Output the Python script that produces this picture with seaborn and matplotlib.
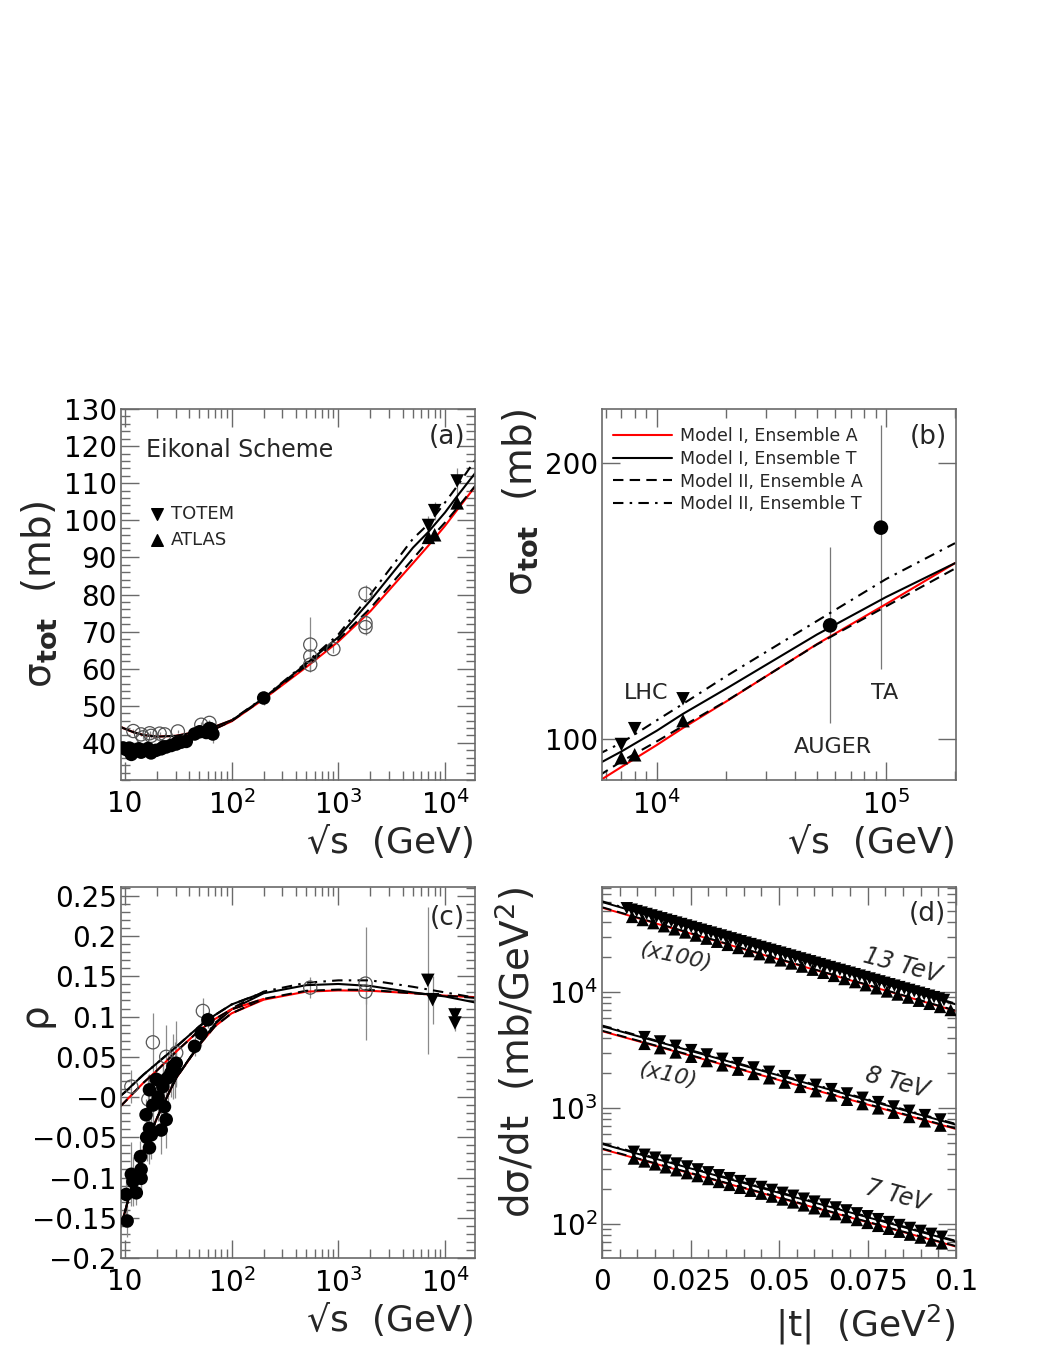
import matplotlib
matplotlib.use('Agg')
import matplotlib.pyplot as plt
import matplotlib.ticker as mt
from matplotlib.lines import Line2D
import seaborn as sns

# ---------------- data ----------------
# model curves for sigma_tot (pp), shared by panels (a) and (b)
sqrts_grid = [9, 10, 12, 15, 20, 30, 50, 70, 100, 200, 500, 1e3, 2e3, 5e3, 7e3,
              1e4, 1.3e4, 2e4, 5e4, 1e5, 2e5]
sig_I_A = [38.7, 38.5, 38.3, 38.3, 38.5, 39.5, 41.8, 43.8, 45.8, 51.8, 60.4, 67.3,
           75.5, 88.4, 93.2, 98.5, 102.8, 109.8, 126.9, 140.3, 155.5]
sig_I_T = [38.7, 38.5, 38.3, 38.3, 38.5, 39.5, 41.8, 43.9, 46.0, 52.1, 61.3, 68.5,
           78.4, 92.6, 96.9, 102.1, 106.5, 113.4, 130.0, 142.8, 155.5]
sig_II_A = [38.7, 38.5, 38.3, 38.3, 38.5, 39.5, 41.8, 43.8, 45.9, 51.9, 60.8, 67.8,
            76.3, 89.6, 94.5, 99.4, 103.3, 109.9, 126.8, 139.5, 153.4]
sig_II_T = [38.7, 38.5, 38.3, 38.3, 38.5, 39.5, 41.8, 43.9, 46.1, 52.2, 61.6, 69.2,
            80.0, 95.0, 99.0, 104.8, 109.2, 117.0, 134.5, 149.4, 163.5]
# pbar-p branch at low energy
sqrts_lo = [9, 10, 12, 15, 20, 30, 50, 70, 100]
sig_pbarp = [44.4, 43.8, 42.9, 42.1, 41.7, 41.9, 43.1, 44.4, 46.1]

# sigma_tot data (a)
pp_x = [9.6, 10.3, 11.5, 12.8, 14.2, 15.8, 17.6, 19.6, 21.9, 24.4, 27.2, 30.3, 33.7,
        37.6, 45.0, 50.2, 57.9, 64.4, 66.8, 200, 11.0, 13.5, 16.5, 23.0, 30.6, 62.0]
pp_y = [38.65, 38.2, 36.9, 38.0, 37.5, 38.0, 37.3, 38.0, 38.4, 38.9, 39.3, 39.7, 40.2,
        40.4, 42.4, 43.0, 42.8, 43.7, 42.4, 52.1, 38.6, 38.4, 38.5, 38.9, 40.0, 43.9]
pp_err = [0.4, 0.4, 0.5, 0.4, 0.4, 0.4, 0.4, 0.4, 0.4, 0.4, 0.4, 0.4, 0.4,
          0.4, 0.5, 0.5, 0.5, 0.6, 2.5, 1.8, 0.4, 0.4, 0.4, 0.4, 0.4, 0.6]
pbarp_x = [12.0, 14.2, 14.8, 17.1, 17.6, 21.2, 23.6, 31.4, 52, 62, 546, 546, 546, 900,
           1800, 1800, 1800]
pbarp_y = [43.2, 42.3, 41.5, 42.6, 41.9, 42.5, 42.3, 43.1, 44.9, 45.4, 66.5, 63.3, 61.1,
           65.3, 80.2, 72.3, 71.2]
pbarp_err = [0.5, 0.5, 0.5, 0.5, 0.5, 0.5, 0.5, 0.5, 0.8, 0.8, 7.5, 1.5, 1.5, 1.0,
             2.3, 3.0, 2.0]
lhc_x = [7000, 8000, 13000]
totem_sig = [98.6, 102.6, 110.6]
totem_sig_err = [2.5, 2.4, 3.4]
atlas_sig = [95.4, 96.1, 104.7]
atlas_sig_err = [1.4, 0.9, 1.1]
cr_x = [57000, 95000]
cr_sig = [133.0, 170.0]
cr_lo = [104.2, 119.3]
cr_hi = [162.0, 220.0]

# rho model curves (c)
rho_sqrts = [9, 10, 12, 15, 20, 30, 50, 70, 100, 200, 500, 1e3, 2e3, 5e3, 1e4, 2e4]
rho_I_A = [-0.163, -0.143, -0.104, -0.066, -0.026, 0.023, 0.065, 0.088, 0.104, 0.121,
           0.131, 0.1325, 0.132, 0.129, 0.126, 0.124]
rho_I_T = [-0.163, -0.143, -0.104, -0.066, -0.026, 0.023, 0.066, 0.091, 0.109, 0.129,
           0.139, 0.1405, 0.138, 0.130, 0.125, 0.117]
rho_II_A = [-0.163, -0.143, -0.104, -0.066, -0.026, 0.023, 0.065, 0.088, 0.104, 0.122,
            0.132, 0.1335, 0.133, 0.129, 0.126, 0.123]
rho_II_T = [-0.163, -0.143, -0.104, -0.066, -0.026, 0.023, 0.066, 0.092, 0.110, 0.131,
            0.142, 0.145, 0.145, 0.137, 0.130, 0.123]
rho_lo_sqrts = [9, 10, 12, 15, 20, 30, 50, 70, 100, 200]
rho_pbarp_T = [0.001, 0.006, 0.016, 0.028, 0.042, 0.062, 0.088, 0.102, 0.115, 0.130]
rho_pbarp_A = [-0.012, -0.006, 0.005, 0.018, 0.033, 0.056, 0.083, 0.097, 0.109, 0.122]

# rho data (c)
rho_pp_x = [10.5, 10.3, 11.9, 12.8, 14.2, 14.2, 11.5, 17.0, 14.0, 17.7, 21.9, 15.8, 17.0,
            24.4, 18.3, 23.5, 17.0, 19.7, 25.3, 22.7, 28.2, 30.3, 29.2, 45.0, 52.0, 60.0,
            16.0, 20.5, 23.0, 27.0]
rho_pp_y = [-0.154, -0.121, -0.105, -0.119, -0.101, -0.090, -0.096, -0.063, -0.074,
            -0.047, -0.041, -0.022, -0.039, -0.028, -0.010, -0.012, 0.009, 0.022, 0.024,
            0.013, 0.038, 0.042, 0.034, 0.063, 0.079, 0.096, -0.050, 0.000, 0.020, 0.030]
rho_pp_err = [0.020, 0.030, 0.030, 0.015, 0.020, 0.025, 0.040, 0.020, 0.020, 0.030, 0.030,
              0.020, 0.030, 0.035, 0.040, 0.030, 0.020, 0.020, 0.030, 0.030, 0.040, 0.030,
              0.035, 0.012, 0.015, 0.010, 0.030, 0.030, 0.020, 0.030]
rho_pbarp_x = [11.5, 16.6, 18.3, 24.4, 30.3, 53.8, 546, 1800, 1800]
rho_pbarp_y = [0.013, -0.003, 0.068, 0.050, 0.055, 0.107, 0.136, 0.141, 0.131]
rho_pbarp_err = [0.020, 0.030, 0.037, 0.040, 0.040, 0.016, 0.013, 0.070, 0.015]
rho_totem_x = [6900, 7650, 12400, 12400]
rho_totem_y = [0.145, 0.121, 0.102, 0.092]
rho_totem_err = [0.091, 0.030, 0.010, 0.010]

# dsigma/dt (d): model curves (13 TeV x100, 8 TeV x10, 7 TeV)
t_grid = [0, 0.025, 0.05, 0.075, 0.1]
ds13_I_A = [53580, 32050, 19160, 11470, 6855]
ds13_I_T = [59980, 36060, 21680, 13030, 7834]
ds13_II_A = [54100, 32370, 19350, 11580, 6920]
ds13_II_T = [60900, 36600, 22000, 13230, 7950]
ds8_I_A = [4603, 2831, 1742, 1072, 659]
ds8_I_T = [5082, 3115, 1910, 1171, 718]
ds8_II_A = [4650, 2860, 1760, 1083, 666]
ds8_II_T = [5160, 3160, 1940, 1190, 729]
ds7_I_A = [442.6, 272.6, 167.9, 103.4, 63.7]
ds7_I_T = [489.8, 301.5, 185.5, 114.2, 70.3]
ds7_II_A = [447.0, 275.3, 169.6, 104.4, 64.3]
ds7_II_T = [497.0, 306.0, 188.3, 115.9, 71.4]

# dsigma/dt data
t13_totem = [0.0070, 0.0084, 0.0098, 0.0112, 0.0126, 0.0140, 0.0154, 0.0168, 0.0182,
             0.0196, 0.0210, 0.0224, 0.0238, 0.0252, 0.0266, 0.0280, 0.0294, 0.0308,
             0.0322, 0.0336, 0.0350, 0.0364, 0.0378, 0.0392, 0.0406, 0.0420, 0.0434,
             0.0448, 0.0462, 0.0476, 0.0490, 0.0504, 0.0518, 0.0532, 0.0546, 0.0560,
             0.0574, 0.0588, 0.0602, 0.0616, 0.0630, 0.0644, 0.0658, 0.0672, 0.0686,
             0.0700, 0.0714, 0.0728, 0.0742, 0.0756, 0.0770, 0.0784, 0.0798, 0.0812,
             0.0826, 0.0840, 0.0854, 0.0868, 0.0882, 0.0896, 0.0910, 0.0924, 0.0938,
             0.0952, 0.0966]
ds13_totem = [52980, 51490, 50050, 48640, 47270, 45940, 44660, 43400, 42180, 41000,
              39850, 38730, 37640, 36580, 35560, 34560, 33590, 32650, 31730, 30840,
              29970, 29130, 28310, 27510, 26740, 25990, 25260, 24550, 23860, 23190,
              22540, 21910, 21290, 20690, 20110, 19550, 19000, 18470, 17950, 17450,
              16950, 16470, 16010, 15560, 15130, 14700, 14290, 13890, 13500, 13120,
              12750, 12390, 12040, 11700, 11380, 11060, 10750, 10450, 10150, 9865,
              9590, 9320, 9060, 8805, 8560]
t13_atlas = [0.0085, 0.0115, 0.0145, 0.0175, 0.0205, 0.0235, 0.0265, 0.0295, 0.0325,
             0.0355, 0.0385, 0.0415, 0.0445, 0.0475, 0.0505, 0.0535, 0.0565, 0.0595,
             0.0625, 0.0655, 0.0685, 0.0715, 0.0745, 0.0775, 0.0805, 0.0835, 0.0865,
             0.0895, 0.0925, 0.0955, 0.0985]
ds13_atlas = [44580, 41910, 39410, 37050, 34830, 32750, 30790, 28950, 27220, 25590,
              24060, 22620, 21270, 19990, 18800, 17670, 16620, 15620, 14690, 13810,
              12980, 12210, 11480, 10790, 10140, 9540, 8970, 8430, 7930, 7450, 7010]
t8 = [0.0120, 0.0164, 0.0208, 0.0252, 0.0296, 0.0340, 0.0384, 0.0428, 0.0472, 0.0516,
      0.0560, 0.0604, 0.0648, 0.0692, 0.0736, 0.0780, 0.0824, 0.0868, 0.0912, 0.0956]
ds8_totem = [4093, 3755, 3445, 3161, 2900, 2661, 2441, 2240, 2055, 1885,
             1730, 1587, 1456, 1336, 1226, 1125, 1032, 947, 869, 797]
ds8_atlas = [3578, 3285, 3016, 2769, 2542, 2334, 2143, 1967, 1806, 1658,
             1522, 1397, 1283, 1178, 1081, 993, 911, 837, 768, 705]
t7 = [0.009, 0.012, 0.015, 0.018, 0.021, 0.024, 0.027, 0.030, 0.033, 0.036,
      0.039, 0.042, 0.045, 0.048, 0.051, 0.054, 0.057, 0.060, 0.063, 0.066,
      0.069, 0.072, 0.075, 0.078, 0.081, 0.084, 0.087, 0.090, 0.093, 0.096]
ds7_totem = [419.0, 395.3, 373.0, 351.9, 332.0, 313.2, 295.5, 278.8, 263.0, 248.2,
             234.1, 220.9, 208.4, 196.6, 185.5, 175.0, 165.1, 155.8, 147.0, 138.7,
             130.8, 123.4, 116.5, 109.9, 103.7, 97.8, 92.3, 87.1, 82.1, 77.5]
ds7_atlas = [366.6, 345.9, 326.3, 307.9, 290.5, 274.1, 258.6, 244.0, 230.2, 217.2,
             204.9, 193.3, 182.4, 172.1, 162.4, 153.2, 144.5, 136.4, 128.7, 121.4,
             114.5, 108.1, 102.0, 96.2, 90.8, 85.6, 80.8, 76.2, 71.9, 67.9]

legend_labels = ['Model I, Ensemble A', 'Model I, Ensemble T',
                 'Model II, Ensemble A', 'Model II, Ensemble T']

# ---------------- style ----------------
sns.set_theme(style='ticks')
plt.rcParams['font.family'] = ['DejaVu Sans']
plt.rcParams['mathtext.default'] = 'regular'

STY = {
    'I_A': dict(color='#ff0000', linestyle='-'),
    'I_T': dict(color='black', linestyle='-'),
    'II_A': dict(color='black', linestyle=(0, (5, 3))),
    'II_T': dict(color='black', linestyle=(0, (5, 3, 1.2, 3))),
}
FRAME = '#6a6a6a'
ERRC = '#8a8a8a'

W, H = 1048, 1356
fig = plt.figure(figsize=(W / 100, H / 100), dpi=100)


def box(l, t, r, b):
    return [l / W, 1 - b / H, (r - l) / W, (b - t) / H]


ax_a = fig.add_axes(box(121, 409, 475, 780))
ax_b = fig.add_axes(box(602, 409, 956, 780))
ax_c = fig.add_axes(box(121, 887, 475, 1258))
ax_d = fig.add_axes(box(602, 887, 956, 1258))


def frame(ax):
    for s in ax.spines.values():
        s.set_color(FRAME)
        s.set_linewidth(1.2)
    ax.tick_params(which='both', direction='in', top=True, right=True,
                   color=FRAME, width=1.0, labelsize=20, labelcolor='black')
    ax.tick_params(which='major', length=13)
    ax.tick_params(which='minor', length=6.5)
    ax.tick_params(axis='x', pad=7)
    ax.tick_params(axis='y', pad=3)


def curve(ax, x, y, key, lw=1.5):
    sns.lineplot(x=x, y=y, ax=ax, sort=False, estimator=None, errorbar=None,
                 lw=lw, **STY[key])


def log_minor(ax, axis='x'):
    loc = mt.LogLocator(base=10, subs=(2, 3, 4, 5, 6, 7, 8, 9), numticks=30)
    a = ax.xaxis if axis == 'x' else ax.yaxis
    a.set_minor_locator(loc)
    a.set_minor_formatter(mt.NullFormatter())


def bars(ax, x, y, e, color=ERRC):
    ax.vlines(x, [v - d for v, d in zip(y, e)], [v + d for v, d in zip(y, e)],
              color=color, lw=0.9, zorder=1)


# ---------------- panel (a) ----------------
ax = ax_a
ax.set_xscale('log')
ax.set_xlim(9.2, 1.91e4)
ax.set_ylim(30, 130)
for key, sig in [('I_A', sig_I_A), ('I_T', sig_I_T), ('II_A', sig_II_A), ('II_T', sig_II_T)]:
    curve(ax, sqrts_grid, sig, key)
curve(ax, sqrts_lo, sig_pbarp, 'I_A')
curve(ax, sqrts_lo, sig_pbarp, 'I_T')

bars(ax, pp_x, pp_y, pp_err)
bars(ax, pbarp_x, pbarp_y, pbarp_err)
bars(ax, lhc_x, totem_sig, totem_sig_err)
ax.scatter(pbarp_x, pbarp_y, s=90, facecolors='none', edgecolors='#555555', linewidths=0.9,
           zorder=3)
sns.scatterplot(x=pp_x, y=pp_y, ax=ax, s=95, color='black', edgecolor='none', zorder=4,
                legend=False)
sns.scatterplot(x=lhc_x, y=totem_sig, ax=ax, marker='v', s=95, color='black',
                edgecolor='none', zorder=5, legend=False)
sns.scatterplot(x=lhc_x, y=atlas_sig, ax=ax, marker='^', s=95, color='black',
                edgecolor='none', zorder=5, legend=False)

ax.set_xticks([10, 100, 1000, 10000])
ax.set_xticklabels(['10', '$10^{2}$', '$10^{3}$', '$10^{4}$'])
log_minor(ax)
ax.set_yticks(list(range(40, 131, 10)))
ax.yaxis.set_minor_locator(mt.MultipleLocator(2))
frame(ax)
ax.text(0.071, 0.889, 'Eikonal Scheme', transform=ax.transAxes, fontsize=17,
        ha='left', va='center')
ax.scatter([0.102], [0.717], marker='v', s=70, color='black', transform=ax.transAxes)
ax.scatter([0.102], [0.647], marker='^', s=70, color='black', transform=ax.transAxes)
ax.text(0.142, 0.717, 'TOTEM', transform=ax.transAxes, fontsize=13, va='center')
ax.text(0.142, 0.647, 'ATLAS', transform=ax.transAxes, fontsize=13, va='center')
ax.text(0.921, 0.925, '(a)', transform=ax.transAxes, fontsize=19, ha='center', va='center')

# ---------------- panel (b) ----------------
ax = ax_b
ax.set_xscale('log')
ax.set_yscale('log')
ax.set_xlim(5760, 2.02e5)
ax.set_ylim(90.2, 229)
for key, sig in [('I_A', sig_I_A), ('I_T', sig_I_T), ('II_A', sig_II_A), ('II_T', sig_II_T)]:
    curve(ax, sqrts_grid, sig, key)
ax.vlines(cr_x, cr_lo, cr_hi, color='#777777', lw=0.9, zorder=1)
sns.scatterplot(x=cr_x, y=cr_sig, ax=ax, s=110, color='black', edgecolor='none', zorder=4,
                legend=False)
sns.scatterplot(x=lhc_x, y=totem_sig, ax=ax, marker='v', s=95, color='black',
                edgecolor='none', zorder=5, legend=False)
sns.scatterplot(x=lhc_x, y=atlas_sig, ax=ax, marker='^', s=95, color='black',
                edgecolor='none', zorder=5, legend=False)
ax.set_xticks([1e4, 1e5])
ax.set_xticklabels(['$10^{4}$', '$10^{5}$'])
log_minor(ax)
ax.set_yticks([100, 200])
ax.set_yticklabels(['100', '200'])
ax.yaxis.set_minor_locator(mt.NullLocator())
frame(ax)
handles = [Line2D([], [], lw=1.5, **STY[k]) for k in ['I_A', 'I_T', 'II_A', 'II_T']]
ax.legend(handles, legend_labels, loc='upper left', bbox_to_anchor=(0.030, 0.952),
          frameon=False, fontsize=12.5, handlelength=3.4, handletextpad=0.5,
          labelspacing=0.28, borderpad=0, borderaxespad=0)
ax.text(0.124, 0.2345, 'LHC', transform=ax.transAxes, fontsize=16, ha='center', va='center')
ax.text(0.6525, 0.089, 'AUGER', transform=ax.transAxes, fontsize=16, ha='center',
        va='center')
ax.text(0.797, 0.2345, 'TA', transform=ax.transAxes, fontsize=16, ha='center', va='center')
ax.text(0.921, 0.925, '(b)', transform=ax.transAxes, fontsize=19, ha='center', va='center')

# ---------------- panel (c) ----------------
ax = ax_c
ax.set_xscale('log')
ax.set_xlim(9.2, 1.91e4)
ax.set_ylim(-0.2, 0.261)
for key, r in [('I_A', rho_I_A), ('I_T', rho_I_T), ('II_A', rho_II_A), ('II_T', rho_II_T)]:
    curve(ax, rho_sqrts, r, key)
curve(ax, rho_lo_sqrts, rho_pbarp_A, 'I_A')
curve(ax, rho_lo_sqrts, rho_pbarp_A, 'II_A')
curve(ax, rho_lo_sqrts, rho_pbarp_T, 'I_T')
curve(ax, rho_lo_sqrts, rho_pbarp_T, 'II_T')
bars(ax, rho_pp_x, rho_pp_y, rho_pp_err)
bars(ax, rho_pbarp_x, rho_pbarp_y, rho_pbarp_err)
bars(ax, rho_totem_x, rho_totem_y, rho_totem_err)
ax.scatter(rho_pbarp_x, rho_pbarp_y, s=90, facecolors='none', edgecolors='#555555',
           linewidths=0.9, zorder=3)
sns.scatterplot(x=rho_pp_x, y=rho_pp_y, ax=ax, s=95, color='black', edgecolor='none',
                zorder=4, legend=False)
sns.scatterplot(x=rho_totem_x, y=rho_totem_y, ax=ax, marker='v', s=95, color='black',
                edgecolor='none', zorder=5, legend=False)
ax.set_xticks([10, 100, 1000, 10000])
ax.set_xticklabels(['10', '$10^{2}$', '$10^{3}$', '$10^{4}$'])
log_minor(ax)
rho_ticks = [-0.2, -0.15, -0.1, -0.05, 0.0, 0.05, 0.1, 0.15, 0.2, 0.25]
ax.set_yticks(rho_ticks)
ax.set_yticklabels(['\u22120.2', '\u22120.15', '\u22120.1', '\u22120.05', '\u22120',
                    '0.05', '0.1', '0.15', '0.2', '0.25'])
ax.yaxis.set_minor_locator(mt.MultipleLocator(0.01))
frame(ax)
ax.text(0.921, 0.916, '(c)', transform=ax.transAxes, fontsize=19, ha='center', va='center')

# ---------------- panel (d) ----------------
ax = ax_d
ax.set_yscale('log')
ax.set_xlim(0, 0.1)
ax.set_ylim(50.8, 80800)
for dsets in [(ds13_I_A, ds13_I_T, ds13_II_A, ds13_II_T),
              (ds8_I_A, ds8_I_T, ds8_II_A, ds8_II_T),
              (ds7_I_A, ds7_I_T, ds7_II_A, ds7_II_T)]:
    for key, ds in zip(['I_A', 'I_T', 'II_A', 'II_T'], dsets):
        curve(ax, t_grid, ds, key, lw=1.4)
for tt, yy, m in [(t13_totem, ds13_totem, 'v'), (t13_atlas, ds13_atlas, '^'),
                  (t8, ds8_totem, 'v'), (t8, ds8_atlas, '^'),
                  (t7, ds7_totem, 'v'), (t7, ds7_atlas, '^')]:
    sns.scatterplot(x=tt, y=yy, ax=ax, marker=m, s=80, color='black', edgecolor='none',
                    zorder=4, legend=False)
ax.set_xticks([0, 0.025, 0.05, 0.075, 0.1])
ax.set_xticklabels(['0', '0.025', '0.05', '0.075', '0.1'])
ax.xaxis.set_minor_locator(mt.MultipleLocator(0.005))
ax.set_yticks([100, 1000, 10000])
ax.set_yticklabels(['$10^{2}$', '$10^{3}$', '$10^{4}$'])
log_minor(ax, 'y')
frame(ax)
ax.text(0.918, 0.927, '(d)', transform=ax.transAxes, fontsize=19, ha='center', va='center')
ax.text(0.209, 0.811, '(x100)', transform=ax.transAxes, fontsize=16, style='italic',
        rotation=-12, ha='center', va='center')
ax.text(0.186, 0.493, '(x10)', transform=ax.transAxes, fontsize=16, style='italic',
        rotation=-12, ha='center', va='center')
ax.text(0.847, 0.787, '13 TeV', transform=ax.transAxes, fontsize=17, style='italic',
        rotation=-15, ha='center', va='center')
ax.text(0.833, 0.474, '8 TeV', transform=ax.transAxes, fontsize=17, style='italic',
        rotation=-15, ha='center', va='center')
ax.text(0.833, 0.167, '7 TeV', transform=ax.transAxes, fontsize=17, style='italic',
        rotation=-15, ha='center', va='center')

# ---------------- axis titles ----------------
sig_label = r'$\sigma_{\mathbf{tot}}$  (mb)'
ax_a.set_ylabel(sig_label, fontsize=28)
ax_a.yaxis.set_label_coords(-0.175, 0.5)
ax_b.set_ylabel(sig_label, fontsize=28, loc='top')
ax_b.yaxis.set_label_coords(-0.175, 1.0)
for ax in (ax_a, ax_b, ax_c):
    ax.set_xlabel('\u221as  (GeV)', fontsize=26, loc='right')
    ax.xaxis.set_label_coords(1.0, -0.125)
ax_c.set_ylabel('\u03c1', fontsize=28)
ax_c.yaxis.set_label_coords(-0.19, 0.655)
ax_d.set_ylabel(r'd$\sigma$/dt  (mb/GeV$^{2}$)', fontsize=28, loc='top')
ax_d.yaxis.set_label_coords(-0.18, 1.0)
ax_d.set_xlabel('|t|  (GeV$^{2}$)', fontsize=26, loc='right')
ax_d.xaxis.set_label_coords(1.0, -0.12)

fig.savefig('out.png', dpi=100, facecolor='white')
